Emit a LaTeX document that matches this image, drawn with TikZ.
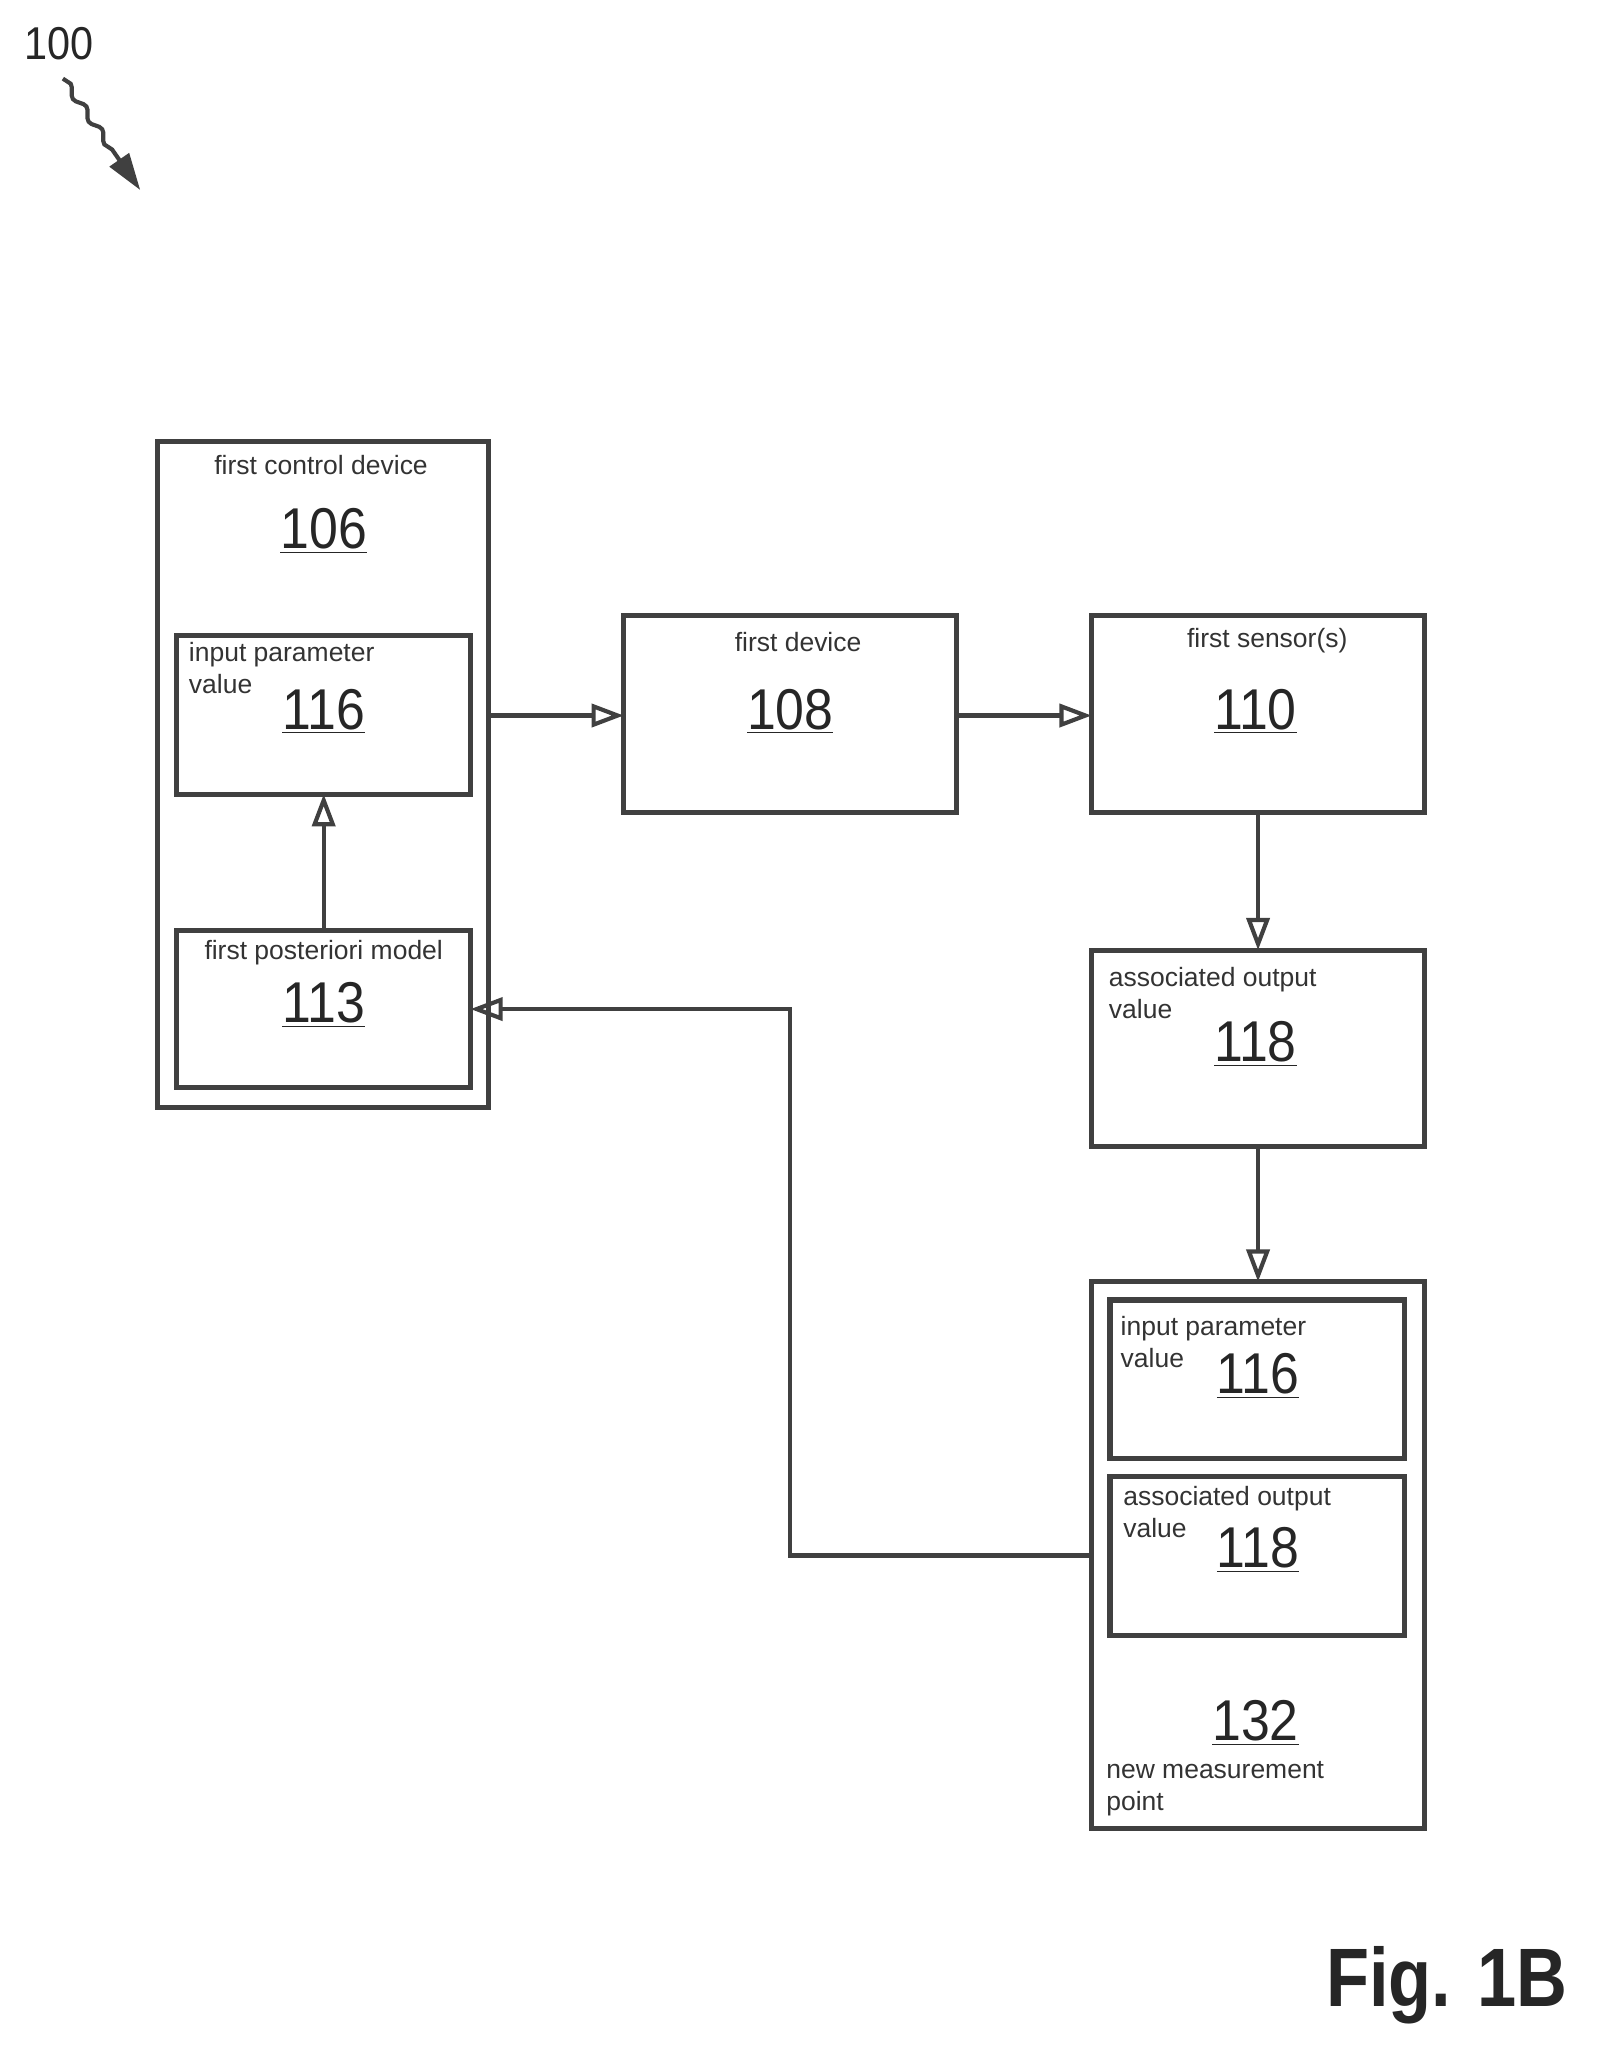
\documentclass[tikz,border=0pt]{standalone}
\usepackage{fontspec}
\setmainfont{Liberation Sans}
\usetikzlibrary{arrows.meta,decorations.pathmorphing}
\begin{document}
\begin{tikzpicture}[x=0.02cm,y=-0.02cm,
  box/.style={draw=black!75,line width=2.2pt},
  arr/.style={draw=black!75,line width=1.8pt,-{Triangle[open,length=14pt,width=10pt]}},
  lbl/.style={font=\fontsize{11.5}{14}\selectfont,text=black!80,align=left},
  num/.style={font=\fontsize{25}{26}\selectfont,text=black!85,xscale=0.9}]
\useasboundingbox (0,0) rectangle (1218,1575);
% boxes
\draw[box] (120,337) rectangle (373,845);
\node[lbl] (t106) at (245,355) {first control device};
\node[num] (n106) at (247,405) {\underline{106}};
\draw[box] (135,485) rectangle (359,606);
\node[lbl,anchor=north west] (t116a) at (138,484) {input parameter\\value};
\node[num] (n116a) at (247,543) {\underline{116}};
\draw[box] (135,710) rectangle (359,830);
\node[lbl] (t113) at (247,727) {first posteriori model};
\node[num] (n113) at (247,767) {\underline{113}};
\draw[box] (476,470) rectangle (730,620);
\node[lbl] (t108) at (609,490) {first device};
\node[num] (n108) at (603,543) {\underline{108}};
\draw[box] (833,470) rectangle (1087,620);
\node[lbl] (t110) at (967,489) {first sensor(s)};
\node[num] (n110) at (958,543) {\underline{110}};
\draw[box] (833,725) rectangle (1087,875);
\node[lbl,anchor=north west] (t118) at (840,732) {associated output\\value};
\node[num] (n118) at (958,797) {\underline{118}};
\draw[box] (833,978) rectangle (1087,1395);
\draw[box] (847,992) rectangle (1072,1113);
\node[lbl,anchor=north west] (t116b) at (849,998) {input parameter\\value};
\node[num] (n116b) at (960,1050) {\underline{116}};
\draw[box] (847,1127) rectangle (1072,1248);
\node[lbl,anchor=north west] (t118b) at (851,1128) {associated output\\value};
\node[num] (n118b) at (960,1183) {\underline{118}};
\node[num] (n132) at (958,1315) {\underline{132}};
\node[lbl,anchor=north west] (t132) at (838,1338) {new measurement\\point};
% connectors
\coordinate (c1) at (373,546); \coordinate (c2) at (476,546);
\draw[arr] (c1) -- (c2);
\coordinate (c3) at (730,546); \coordinate (c4) at (833,546);
\draw[arr] (c3) -- (c4);
\coordinate (c5) at (960,620); \coordinate (c6) at (960,725);
\draw[arr] (c5) -- (c6);
\coordinate (c7) at (960,875); \coordinate (c8) at (960,978);
\draw[arr] (c7) -- (c8);
\coordinate (c9) at (247,710); \coordinate (c10) at (247,606);
\draw[arr] (c9) -- (c10);
\coordinate (c11) at (833,1187); \coordinate (c12) at (359,770);
\draw[arr] (c11) -| (603,770) -- (c12);
% 100
\node[font=\fontsize{20}{22}\selectfont,text=black!85,xscale=0.9] (n100) at (45,33) {100};
\coordinate (s1) at (48,60); \coordinate (s2) at (107,145);
\draw[draw=black!75,line width=1.8pt,decorate,decoration={snake,amplitude=1.5pt,segment length=12pt,post length=18pt},-{Triangle[length=16pt,width=10pt]}] (s1) -- (s2);
\node[font=\bfseries\fontsize{36}{38}\selectfont,text=black!85,xscale=0.85] (fig) at (1104,1515) {Fig. 1B};
\end{tikzpicture}
\end{document}
